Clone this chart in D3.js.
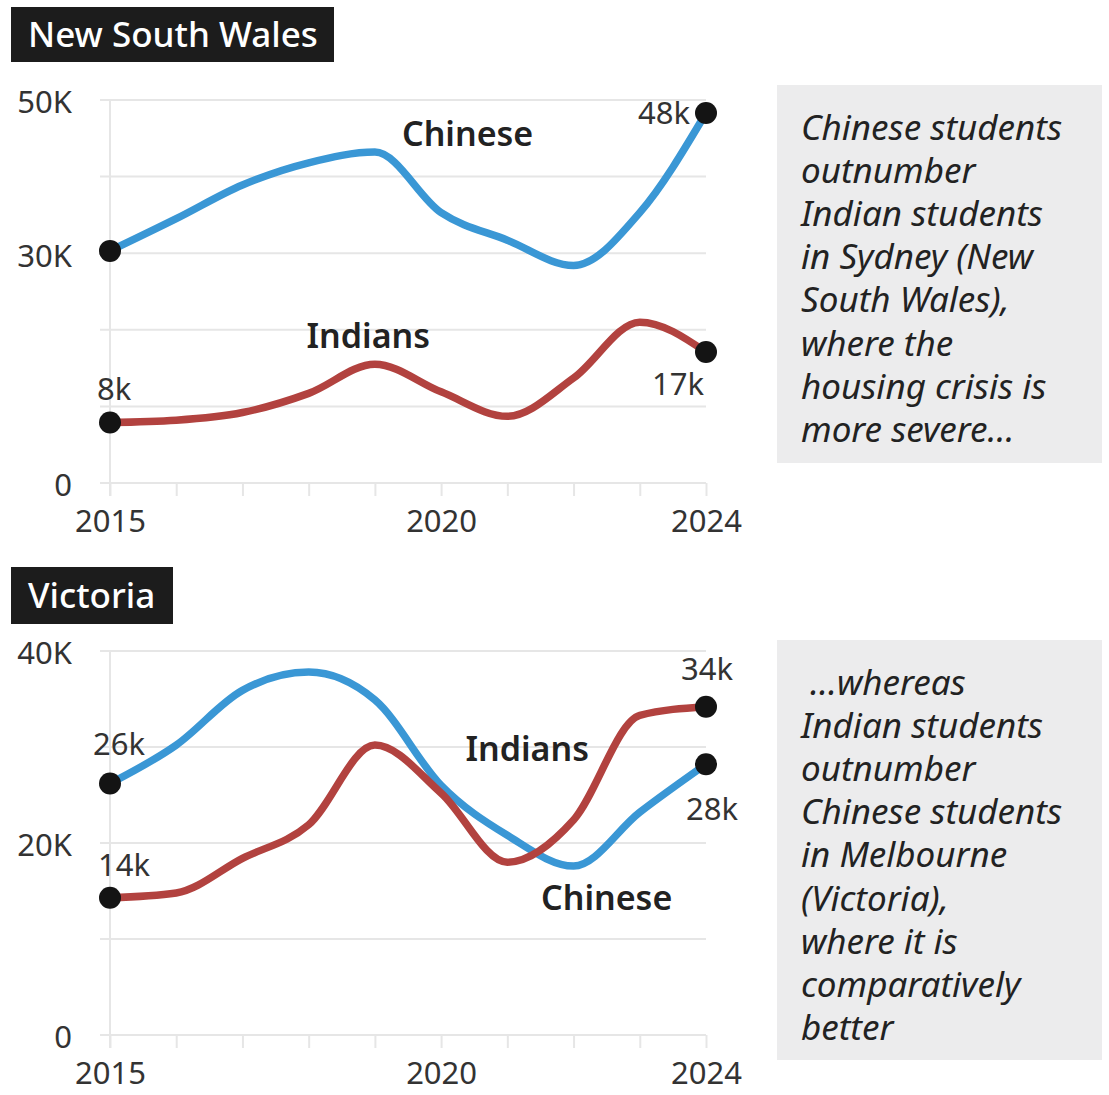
<!DOCTYPE html>
<html>
<head>
<meta charset="utf-8">
<script src="https://cdn.jsdelivr.net/npm/d3@7"></script>
<style>
  html, body { margin: 0; padding: 0; background: #fff; }
  svg { display: block; font-family: "Noto Sans", "Open Sans", sans-serif; }
</style>
</head>
<body>
<svg id="chart" width="1109" height="1095"></svg>
<script>
// International student enrolments by nationality, 2015–2024
const years = [2015, 2016, 2017, 2018, 2019, 2020, 2021, 2022, 2023, 2024];

const nswChinese = [30300, 34500, 38900, 41800, 43200, 35300, 31700, 28400, 35300, 48300];
const nswIndians = [7900, 8200, 9200, 11700, 15500, 11900, 8700, 13700, 21000, 17100];

const vicChinese = [26200, 30200, 35900, 37800, 34900, 26000, 20800, 17600, 23200, 28200];
const vicIndians = [14300, 14800, 18400, 21900, 30200, 25200, 18000, 22400, 33300, 34200];

const nswTickValues = [0, 30000, 50000];
const vicTickValues = [0, 20000, 40000];
const xTickLabels = [2015, 2020, 2024];

const nswNote = ["Chinese students", "outnumber", "Indian students", "in Sydney (New",
  "South Wales),", "where the", "housing crisis is", "more severe..."];
const vicNote = [" ...whereas", "Indian students", "outnumber", "Chinese students",
  "in Melbourne", "(Victoria),", "where it is", "comparatively", "better"];

const BLUE = "#3a97d5";
const RED = "#b2423f";

const svg = d3.select("#chart");

const panels = [
  {
    title: "New South Wales", titleBox: [11, 7, 323, 55],
    yMax: 50000, yTop: 100, yBottom: 483, ticks: nswTickValues,
    series: [
      { name: "Chinese", values: nswChinese, color: BLUE,
        nameAt: [2020.4, 45600],
        endLabels: [{ i: 9, dx: -16, dy: 0, anchor: "end" }] },
      { name: "Indians", values: nswIndians, color: RED,
        nameAt: [2018.9, 19200],
        endLabels: [{ i: 0, dx: -13, dy: -34, anchor: "start" },
                    { i: 9, dx: -2, dy: 32, anchor: "end" }] }
    ],
    note: nswNote, noteBox: [777, 85, 325, 378]
  },
  {
    title: "Victoria", titleBox: [11, 567, 162, 57],
    yMax: 40000, yTop: 651, yBottom: 1035, ticks: vicTickValues,
    series: [
      { name: "Chinese", values: vicChinese, color: BLUE,
        nameAt: [2022.5, 14300],
        endLabels: [{ i: 0, dx: -17, dy: -40, anchor: "start" },
                    { i: 9, dx: 32, dy: 45, anchor: "end" }] },
      { name: "Indians", values: vicIndians, color: RED,
        nameAt: [2021.3, 29800],
        endLabels: [{ i: 0, dx: -12, dy: -33, anchor: "start" },
                    { i: 9, dx: 27, dy: -38, anchor: "end" }] }
    ],
    note: vicNote, noteBox: [777, 640, 325, 420]
  }
];

const x = d3.scaleLinear().domain([2015, 2024]).range([110, 706]);
const fmtK = v => Math.round(v / 1000) + "k";
const fmtAxis = v => v === 0 ? "0" : (v / 1000) + "K";

panels.forEach(p => {
  const y = d3.scaleLinear().domain([0, p.yMax]).range([p.yBottom, p.yTop]);
  const g = svg.append("g");

  // title tag
  const [tx, ty, tw, th] = p.titleBox;
  g.append("rect").attr("x", tx).attr("y", ty).attr("width", tw).attr("height", th)
    .attr("fill", "#1c1c1c");
  g.append("text").attr("x", tx + 17).attr("y", ty + th / 2).attr("dy", "0.36em")
    .attr("fill", "#fff").attr("font-size", 35).attr("font-weight", 500)
    .text(p.title);

  // horizontal grid every 10K
  const gridVals = d3.range(0, p.yMax + 1, 10000);
  g.append("g").selectAll("line").data(gridVals).join("line")
    .attr("x1", 100).attr("x2", 706)
    .attr("y1", d => y(d)).attr("y2", d => y(d))
    .attr("stroke", "#e6e6e6").attr("stroke-width", 2);

  // vertical axis line
  g.append("line").attr("x1", x(2015)).attr("x2", x(2015))
    .attr("y1", p.yTop).attr("y2", p.yBottom + 13)
    .attr("stroke", "#e6e6e6").attr("stroke-width", 2);

  // x axis
  const xAxis = d3.axisBottom(x).tickValues(years).tickSize(13).tickPadding(14)
    .tickFormat(d => xTickLabels.includes(d) ? String(d) : "");
  const xg = g.append("g").attr("transform", `translate(0,${p.yBottom})`).call(xAxis);
  xg.select(".domain").remove();
  xg.selectAll(".tick line").attr("stroke", "#e6e6e6").attr("stroke-width", 2);
  xg.selectAll(".tick text").attr("fill", "#333").attr("font-size", 31)
    .attr("font-family", "Noto Sans, sans-serif");

  // y axis labels
  const yAxis = d3.axisLeft(y).tickValues(p.ticks).tickSize(0).tickPadding(38)
    .tickFormat(fmtAxis);
  const yg = g.append("g").attr("transform", `translate(${x(2015)},3)`).call(yAxis);
  yg.select(".domain").remove();
  yg.selectAll(".tick text").attr("fill", "#333").attr("font-size", 31)
    .attr("font-family", "Noto Sans, sans-serif");

  // lines
  const line = d3.line().x((d, i) => x(years[i])).y(d => y(d)).curve(d3.curveMonotoneX);
  p.series.forEach(s => {
    g.append("path").datum(s.values).attr("d", line)
      .attr("fill", "none").attr("stroke", s.color).attr("stroke-width", 7.5)
      .attr("stroke-linecap", "butt");
  });

  // end dots and value labels
  p.series.forEach(s => {
    const idx = [0, s.values.length - 1];
    g.append("g").selectAll("circle").data(idx).join("circle")
      .attr("cx", i => x(years[i])).attr("cy", i => y(s.values[i]))
      .attr("r", 11).attr("fill", "#141414");
    s.endLabels.forEach(l => {
      g.append("text")
        .attr("x", x(years[l.i]) + l.dx).attr("y", y(s.values[l.i]) + l.dy)
        .attr("dy", "0.36em").attr("text-anchor", l.anchor)
        .attr("fill", "#333").attr("font-size", 31)
        .text(fmtK(s.values[l.i]));
    });
    g.append("text")
      .attr("x", x(s.nameAt[0])).attr("y", y(s.nameAt[1])).attr("dy", "0.36em")
      .attr("text-anchor", "middle").attr("fill", "#222")
      .attr("font-size", 34).attr("font-weight", 600)
      .text(s.name);
  });

  // annotation box
  const [nx, ny, nw, nh] = p.noteBox;
  g.append("rect").attr("x", nx).attr("y", ny).attr("width", nw).attr("height", nh)
    .attr("fill", "#ececed");
  g.append("text").attr("font-style", "italic").attr("font-size", 35)
    .attr("fill", "#222")
    .selectAll("tspan").data(p.note).join("tspan")
    .attr("x", nx + 24).attr("y", (d, i) => ny + 42 + i * 43.2)
    .attr("dy", "0.36em")
    .style("white-space", "pre")
    .text(d => d);
});
</script>
</body>
</html>
